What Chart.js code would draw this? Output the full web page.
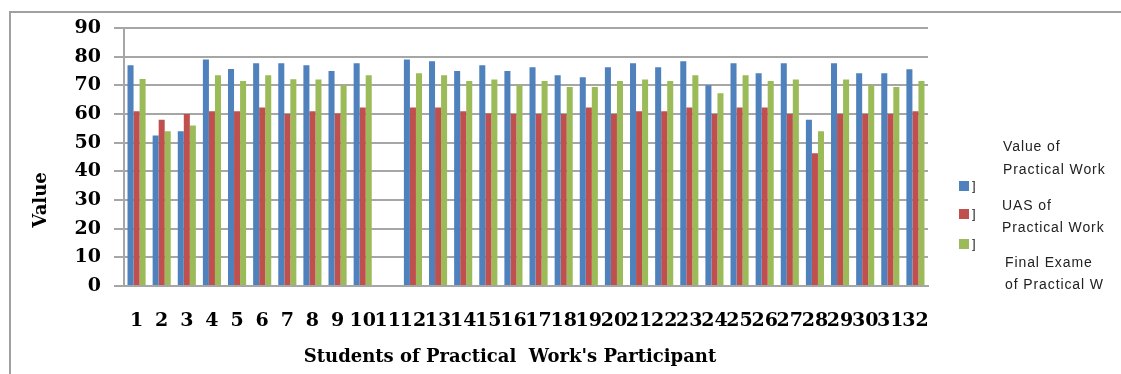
<!DOCTYPE html>
<html>
<head>
<meta charset="utf-8">
<script src="https://cdn.jsdelivr.net/npm/chart.js@4"></script>
<style>
  body { margin: 0; background: #fff; overflow: hidden; }
  #wrap { position: relative; width: 1121px; height: 374px; }
  #frame {
    position: absolute; left: 9px; top: 11px; width: 1200px; height: 400px;
    border-left: 2px solid #a0a0a0; border-top: 2px solid #a0a0a0;
    pointer-events: none;
  }
</style>
</head>
<body>
<div id="wrap">
  <canvas id="chart" width="1121" height="374"></canvas>
  <div id="frame"></div>
</div>
<script>
const students = ['1','2','3','4','5','6','7','8','9','10','11','12','13','14','15','16',
  '17','18','19','20','21','22','23','24','25','26','27','28','29','30','31','32'];

const practicalValue = [77, 52.5, 54, 79, 75.7, 77.7, 77.7, 77, 75, 77.7, null, 79, 78.4, 75, 77, 75,
  76.3, 73.5, 72.8, 76.3, 77.7, 76.3, 78.4, 70, 77.7, 74.2, 77.7, 58, 77.7, 74.2, 74.2, 75.6];
const uasValue = [61, 58, 60, 61, 61, 62.3, 60, 61, 60.2, 62.3, null, 62.3, 62.3, 61, 60.2, 60,
  60, 60, 62.3, 60, 61, 61, 62.3, 60, 62.3, 62.3, 60, 46.3, 60, 60, 60, 61];
const finalValue = [72.2, 54, 56, 73.5, 71.5, 73.5, 72.1, 72, 70, 73.5, null, 74.2, 73.5, 71.5, 72, 70,
  71.5, 69.4, 69.4, 71.5, 72, 71.5, 73.5, 67.2, 73.5, 71.5, 72, 54, 72, 70, 69.4, 71.5];

const seriesNames = [
  ['Value of', 'Practical Work'],
  ['UAS of', 'Practical Work'],
  ['Final Exame', 'of Practical W']
];
const yTicks = [0, 10, 20, 30, 40, 50, 60, 70, 80, 90];
const yTitle = 'Value';
const xTitle = "Students of Practical  Work's Participant";

const colors = ['#4f81bd', '#c0504d', '#9bbb59'];
const gridColor = '#a6a6a6';
const serif = '"DejaVu Serif", "Times New Roman", serif';

// titles and legend are drawn by hand, Excel put them off-centre
const extras = {
  id: 'extras',
  afterDraw(chart) {
    const ctx = chart.ctx;
    const area = chart.chartArea;
    ctx.save();
    ctx.fillStyle = '#000';
    ctx.font = 'bold 18px ' + serif;
    ctx.textAlign = 'center';
    ctx.textBaseline = 'middle';
    ctx.fillText(xTitle, area.left + 386, 357);

    ctx.translate(41, area.top + 172);
    ctx.rotate(-Math.PI / 2);
    ctx.fillText(yTitle, 0, 0);
    ctx.restore();

    ctx.save();
    const boxX = area.right + 31;
    const boxY = [186, 214, 244];
    const textY = [[147, 170], [206, 228], [263, 285]];
    const textX = [1003, 1002, 1005];
    chart.data.datasets.forEach((ds, i) => {
      ctx.fillStyle = ds.backgroundColor;
      ctx.fillRect(boxX, boxY[i] - 5, 10, 10);
      ctx.fillStyle = '#222';
      ctx.font = '13px "Liberation Sans", Arial, sans-serif';
      ctx.textAlign = 'left';
      ctx.textBaseline = 'middle';
      ctx.fillText(']', boxX + 13, boxY[i]);
      ctx.font = '14px "Liberation Sans", Arial, sans-serif';
      ctx.letterSpacing = '0.9px';
      seriesNames[i].forEach((line, j) => ctx.fillText(line, textX[i], textY[i][j]));
      ctx.letterSpacing = '0px';
    });
    ctx.restore();
  }
};

new Chart(document.getElementById('chart'), {
  type: 'bar',
  data: {
    labels: students,
    datasets: [
      { label: seriesNames[0].join(' '), data: practicalValue, backgroundColor: colors[0] },
      { label: seriesNames[1].join(' '), data: uasValue, backgroundColor: colors[1] },
      { label: seriesNames[2].join(' '), data: finalValue, backgroundColor: colors[2] }
    ]
  },
  options: {
    responsive: false,
    animation: false,
    layout: { padding: { left: 0, right: 193, top: 28, bottom: 0 } },
    datasets: { bar: { barPercentage: 1, categoryPercentage: 0.72 } },
    plugins: { legend: { display: false }, tooltip: { enabled: false } },
    scales: {
      x: {
        grid: { display: false, drawTicks: false },
        border: { display: true, color: gridColor, width: 2 },
        ticks: {
          autoSkip: false, maxRotation: 0, minRotation: 0, padding: 24,
          color: '#000', font: { family: serif, size: 19, weight: 'bold' }
        },
        afterFit(scale) { scale.height = 88; }
      },
      y: {
        min: 0, max: 90,
        afterBuildTicks(scale) { scale.ticks = yTicks.map(v => ({ value: v })); },
        grid: { color: gridColor, lineWidth: 2, tickLength: 10 },
        border: { display: true, color: gridColor, width: 2 },
        ticks: {
          padding: 13, color: '#000',
          font: { family: serif, size: 19, weight: 'bold' }
        },
        afterFit(scale) { scale.width = 124; }
      }
    }
  },
  plugins: [extras]
});
</script>
</body>
</html>
